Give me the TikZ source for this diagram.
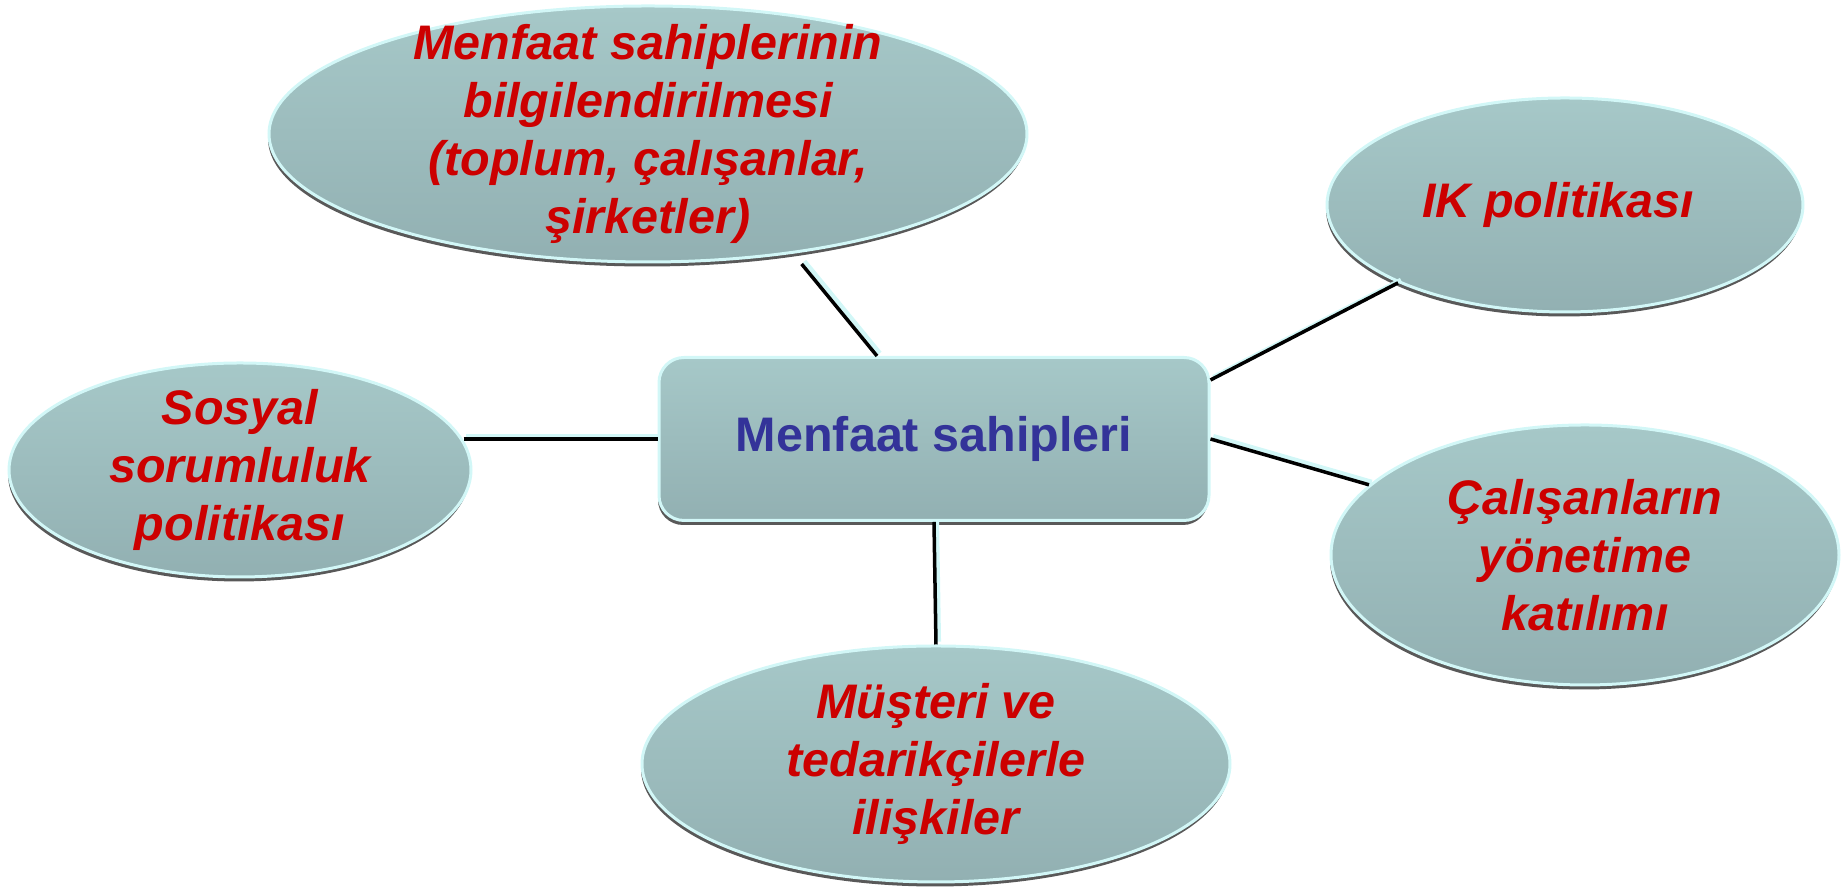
\documentclass[tikz,border=0pt]{standalone}
\usepackage{fontspec}
\setmainfont{Liberation Sans}
\usepackage{tikz}
\usetikzlibrary{shapes.geometric, shadows, positioning}

\definecolor{fondoA}{HTML}{A6C8C8}
\definecolor{fondoB}{HTML}{92B0B2}
\definecolor{borde}{HTML}{D2F7F7}
\definecolor{rojo}{HTML}{CC0000}
\definecolor{azul}{HTML}{333399}

\tikzstyle{burbuja} = [
  ellipse, inner sep=-0.6cm,
  text centered, align=center,
  draw=borde, line width=0.03cm,
  top color=fondoA, bottom color=fondoB,
  drop shadow={shadow xshift=-0.01cm, shadow yshift=-0.045cm,
    fill=black!65, opacity=1},
  text=rojo, font=\bfseries\itshape\fontsize{13.8}{16.5}\selectfont
]
\tikzstyle{centro} = [
  rectangle, rounded corners=0.25cm,
  minimum width=5.5cm, minimum height=1.63cm,
  text centered, align=center,
  draw=borde, line width=0.03cm,
  top color=fondoA, bottom color=fondoB,
  drop shadow={shadow xshift=-0.01cm, shadow yshift=-0.045cm,
    fill=black!65, opacity=1},
  text=azul, font=\bfseries\fontsize{13.8}{16.5}\selectfont
]
\tikzset{
  enlace/.style={line width=0.035cm, black},
  brillo/.style={line width=0.045cm, borde}
}

\begin{document}
\begin{tikzpicture}

\useasboundingbox (0,0) rectangle (18.46,8.87);

% ------------------------------------------------
% CAJA CENTRAL
% ------------------------------------------------

% hub: Menfaat sahipleri
\node[centro] (hub) at (9.34,4.48) {Menfaat sahipleri};

% ------------------------------------------------
% ELIPSES ALREDEDOR
% ------------------------------------------------

% bilgi: arriba a la izquierda
\node[burbuja, minimum width=7.58cm, minimum height=2.56cm] (bilgi) at (6.48,7.53) {%
  Menfaat sahiplerinin\\
  bilgilendirilmesi\\
  (toplum, çalışanlar,\\
  şirketler)
};

% ik: arriba a la derecha
\node[burbuja, minimum width=4.76cm, minimum height=2.14cm] (ik) at (15.65,6.82) {%
  IK politikası
};

% sosyal: a la izquierda
\node[burbuja, minimum width=4.62cm, minimum height=2.14cm] (sosyal) at (2.40,4.17) {%
  Sosyal\\
  sorumluluk\\
  politikası
};

% katilim: abajo a la derecha
\node[burbuja, minimum width=5.08cm, minimum height=2.60cm] (katilim) at (15.85,3.32) {%
  Çalışanların\\
  yönetime\\
  katılımı
};

% musteri: abajo
\node[burbuja, minimum width=5.88cm, minimum height=2.36cm] (musteri) at (9.36,1.23) {%
  Müşteri ve\\
  tedarikçilerle\\
  ilişkiler
};

% ------------------------------------------------
% LINEAS
% ------------------------------------------------

\coordinate (b1) at ([shift={(-0.03,-0.12)}]bilgi.-37);
\coordinate (h1) at ([xshift=-0.57cm]hub.north);
\coordinate (h2) at ([yshift=0.59cm]hub.east);
\coordinate (s1) at ([xshift=-0.09cm]sosyal.east |- hub.west);

% brillo claro, un poco desplazado
\begin{scope}[transform canvas={shift={(0.028cm,0.028cm)}}]
  \foreach \a/\b in {b1/h1, ik.205/h2, katilim.162/hub.east,
                     s1/hub.west, musteri.north/hub.south}
    \draw[brillo] (\a) -- (\b);
\end{scope}

% linea negra
\foreach \a/\b in {b1/h1, ik.205/h2, katilim.162/hub.east,
                   s1/hub.west, musteri.north/hub.south}
  \draw[enlace] (\a) -- (\b);

\end{tikzpicture}
\end{document}
